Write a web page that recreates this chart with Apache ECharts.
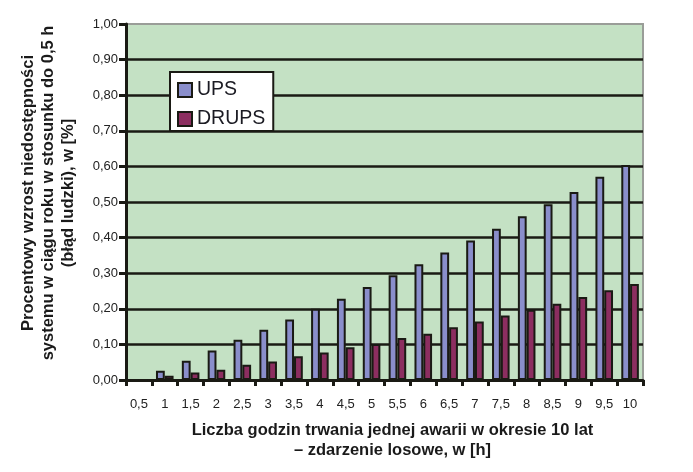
<!DOCTYPE html>
<html>
<head>
<meta charset="utf-8">
<script src="https://cdn.jsdelivr.net/npm/echarts@6/dist/echarts.min.js"></script>
<style>
  html, body { margin: 0; padding: 0; background: #fff; }
  #chart { width: 693px; height: 472px; }
</style>
</head>
<body>
<div id="chart"></div>
<script>
// godziny awarii (kategorie osi X)
var hours = ['0,5', '1', '1,5', '2', '2,5', '3', '3,5', '4', '4,5', '5',
             '5,5', '6', '6,5', '7', '7,5', '8', '8,5', '9', '9,5', '10'];
// w [%]
var upsValues = [0, 0.026, 0.054, 0.083, 0.113, 0.141, 0.170, 0.200, 0.228, 0.261,
                 0.294, 0.325, 0.358, 0.392, 0.425, 0.460, 0.494, 0.528, 0.571, 0.604];
var drupsValues = [0, 0.012, 0.021, 0.029, 0.043, 0.052, 0.067, 0.077, 0.092, 0.101,
                   0.118, 0.130, 0.148, 0.164, 0.181, 0.197, 0.214, 0.233, 0.252, 0.270];

var font = '"Liberation Sans", Arial, sans-serif';

var myChart = echarts.init(document.getElementById('chart'));
myChart.setOption({
  animation: false,
  textStyle: { fontFamily: font },
  grid: {
    left: 126,
    right: 50,
    top: 24,
    bottom: 92,
    show: true,
    backgroundColor: '#c4e1c4',
    borderColor: '#9a9d98',
    borderWidth: 2
  },
  legend: {
    orient: 'vertical',
    left: 170,
    top: 72,
    padding: [8, 8, 2, 7],
    icon: 'rect',
    itemWidth: 14,
    itemHeight: 14,
    itemGap: 9,
    backgroundColor: '#fff',
    borderColor: '#1a1a14',
    borderWidth: 2,
    borderRadius: 0,
    textStyle: { fontSize: 19.5, color: '#1a1a22', fontFamily: font },
    data: ['UPS', 'DRUPS']
  },
  xAxis: {
    type: 'category',
    data: hours,
    name: 'Liczba godzin trwania jednej awarii w okresie 10 lat\n– zdarzenie losowe, w [h]',
    nameLocation: 'middle',
    nameGap: 40,
    nameTextStyle: {
      fontSize: 16.5, fontWeight: 'bold', color: '#1a1a1a', lineHeight: 20,
      fontFamily: font, padding: [0, 0, 0, 16]
    },
    axisLine: { lineStyle: { color: '#1a1a14', width: 3 } },
    axisTick: { show: true, length: 6, lineStyle: { color: '#1a1a14', width: 3 } },
    axisLabel: { fontSize: 13, color: '#222', margin: 18, interval: 0 }
  },
  yAxis: {
    type: 'value',
    min: 0,
    max: 1,
    interval: 0.1,
    name: 'Procentowy wzrost niedostępności\nsystemu w ciągu roku w stosunku do 0,5 h\n(błąd ludzki), w [%]',
    nameLocation: 'middle',
    nameRotate: 90,
    nameGap: 48,
    nameTextStyle: {
      fontSize: 16.5, fontWeight: 'bold', color: '#1a1a1a', lineHeight: 20,
      fontFamily: font, padding: [0, 0, 0, 18]
    },
    axisLine: { show: true, lineStyle: { color: '#1a1a14', width: 3 } },
    axisTick: { show: true, length: 7, lineStyle: { color: '#1a1a14', width: 3 } },
    axisLabel: {
      fontSize: 13, color: '#222', margin: 8,
      formatter: function (v) { return v.toFixed(2).replace('.', ','); }
    },
    splitLine: {
      show: true,
      showMaxLine: false,
      lineStyle: { color: '#1a1a14', width: 2.5 }
    }
  },
  series: [
    {
      name: 'UPS',
      type: 'bar',
      data: upsValues,
      barWidth: '34%',
      barGap: '0%',
      itemStyle: { color: '#8a8ecb', borderColor: '#1a1a14', borderWidth: 2 }
    },
    {
      name: 'DRUPS',
      type: 'bar',
      data: drupsValues,
      barWidth: '34%',
      itemStyle: { color: '#8c2e60', borderColor: '#1a1a14', borderWidth: 2 }
    }
  ]
});
</script>
</body>
</html>
